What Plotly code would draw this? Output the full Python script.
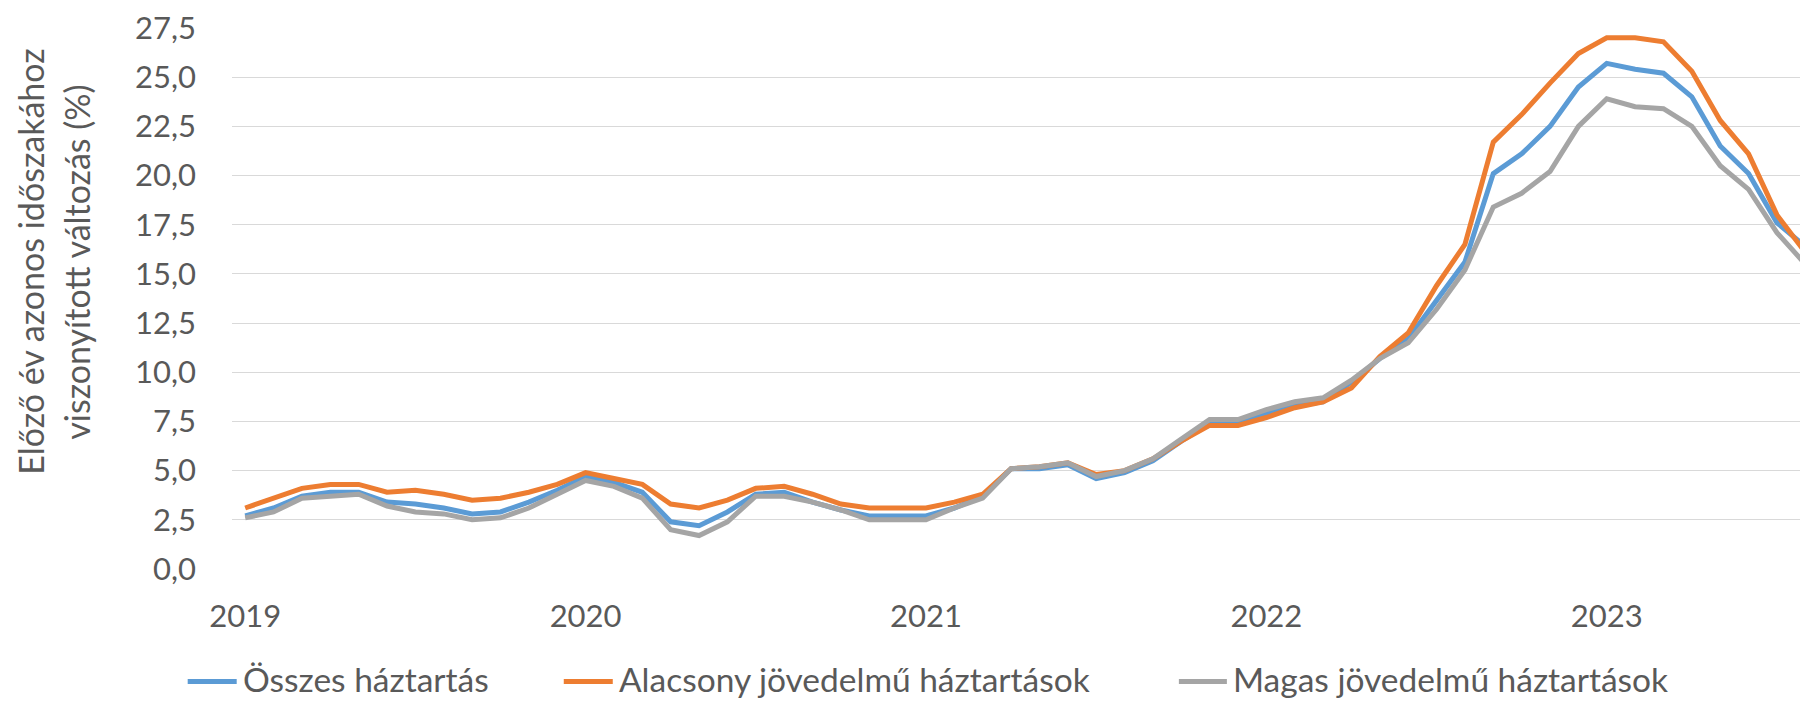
import plotly.graph_objects as go

# ---------------- data ----------------
months = [
    "2019-01", "2019-02", "2019-03", "2019-04", "2019-05", "2019-06", "2019-07", "2019-08", "2019-09", "2019-10", "2019-11", "2019-12",
    "2020-01", "2020-02", "2020-03", "2020-04", "2020-05", "2020-06", "2020-07", "2020-08", "2020-09", "2020-10", "2020-11", "2020-12",
    "2021-01", "2021-02", "2021-03", "2021-04", "2021-05", "2021-06", "2021-07", "2021-08", "2021-09", "2021-10", "2021-11", "2021-12",
    "2022-01", "2022-02", "2022-03", "2022-04", "2022-05", "2022-06", "2022-07", "2022-08", "2022-09", "2022-10", "2022-11", "2022-12",
    "2023-01", "2023-02", "2023-03", "2023-04", "2023-05", "2023-06", "2023-07", "2023-08",
]

osszes = [
    2.7, 3.1, 3.7, 3.9, 3.9, 3.4, 3.3, 3.1, 2.8, 2.9, 3.4, 4.0,
    4.7, 4.4, 3.9, 2.4, 2.2, 2.9, 3.8, 3.9, 3.4, 3.0, 2.7, 2.7,
    2.7, 3.1, 3.7, 5.1, 5.1, 5.3, 4.6, 4.9, 5.5, 6.5, 7.4, 7.4,
    7.9, 8.3, 8.5, 9.5, 10.7, 11.7, 13.7, 15.6, 20.1, 21.1, 22.5, 24.5,
    25.7, 25.4, 25.2, 24.0, 21.5, 20.1, 17.6, 16.4,
]

alacsony = [
    3.1, 3.6, 4.1, 4.3, 4.3, 3.9, 4.0, 3.8, 3.5, 3.6, 3.9, 4.3,
    4.9, 4.6, 4.3, 3.3, 3.1, 3.5, 4.1, 4.2, 3.8, 3.3, 3.1, 3.1,
    3.1, 3.4, 3.8, 5.1, 5.2, 5.4, 4.8, 5.0, 5.6, 6.5, 7.3, 7.3,
    7.7, 8.2, 8.5, 9.2, 10.8, 12.0, 14.4, 16.5, 21.7, 23.1, 24.7, 26.2,
    27.0, 27.0, 26.8, 25.3, 22.8, 21.1, 18.0, 16.1,
]

magas = [
    2.6, 2.9, 3.6, 3.7, 3.8, 3.2, 2.9, 2.8, 2.5, 2.6, 3.1, 3.8,
    4.5, 4.2, 3.6, 2.0, 1.7, 2.4, 3.7, 3.7, 3.4, 3.0, 2.5, 2.5,
    2.5, 3.1, 3.6, 5.1, 5.2, 5.4, 4.7, 5.0, 5.6, 6.6, 7.6, 7.6,
    8.1, 8.5, 8.7, 9.6, 10.7, 11.5, 13.2, 15.2, 18.4, 19.1, 20.2, 22.5,
    23.9, 23.5, 23.4, 22.5, 20.5, 19.3, 17.1, 15.5,
]

series_names = ["Összes háztartás", "Alacsony jövedelmű háztartások", "Magas jövedelmű háztartások"]
series_colors = ["#5B9BD5", "#ED7D31", "#A5A5A5"]

year_ticks = ["2019-01", "2020-01", "2021-01", "2022-01", "2023-01"]
year_labels = ["2019", "2020", "2021", "2022", "2023"]

y_title_lines = ["Előző év azonos időszakához", "viszonyított változás (%)"]

# ---------------- layout geometry (pixels) ----------------
W, H = 1800, 701
PL, PR, PT, PB = 232.3, 1800.0, 27.7, 569.3
X0_PX, MONTH_PX = 245.5, 28.36

FONT = "Lato"
TXT = "#595959"


def px_to_paper_x(px):
    return (px - PL) / (PR - PL)


def px_to_paper_y(py):
    return (PB - py) / (PB - PT)


fig = go.Figure()
for name, vals, col in zip(series_names, [osszes, alacsony, magas], series_colors):
    fig.add_trace(go.Scatter(
        x=months, y=vals, name=name, mode="lines",
        line=dict(color=col, width=5),
        showlegend=False,
    ))

x_left = -(X0_PX - PL) / MONTH_PX
x_right = (PR - X0_PX) / MONTH_PX

fig.update_layout(
    width=W, height=H,
    margin=dict(l=PL, r=W - PR, t=PT, b=H - PB, pad=0),
    paper_bgcolor="white", plot_bgcolor="white",
    separators=", ",
    font=dict(family=FONT, color=TXT),
    xaxis=dict(
        type="category",
        categoryorder="array", categoryarray=months,
        range=[x_left, x_right],
        tickmode="array", tickvals=year_ticks, ticktext=year_labels,
        showgrid=False, zeroline=False, showline=False,
        ticks="", ticklabelstandoff=26,
        tickfont=dict(family=FONT, size=31, color=TXT),
    ),
    yaxis=dict(
        range=[0, 27.5], dtick=2.5, tick0=0, tickformat=".1f",
        showgrid=True, gridcolor="#D9D9D9", gridwidth=1.4,
        zeroline=False, showline=False,
        ticks="", ticklabelstandoff=35,
        tickfont=dict(family=FONT, size=31, color=TXT),
    ),
)

# y axis title (two lines, rotated), one annotation per line
for line_txt, cx in zip(y_title_lines, [30, 76]):
    fig.add_annotation(
        text=line_txt, textangle=-90,
        xref="paper", yref="paper",
        x=px_to_paper_x(cx), y=px_to_paper_y(262),
        xanchor="center", yanchor="middle",
        showarrow=False,
        font=dict(family=FONT, size=34, color=TXT),
    )

# legend (drawn manually to match reference placement)
legend_sym_px = [(188, 237), (564, 613), (1179, 1227)]
legend_txt_px = [241, 617, 1231]
LEG_SYM_Y = 682
LEG_TXT_Y = 679
for (sx0, sx1), tx, name, col in zip(legend_sym_px, legend_txt_px, series_names, series_colors):
    fig.add_shape(
        type="line", xref="paper", yref="paper",
        x0=px_to_paper_x(sx0), x1=px_to_paper_x(sx1),
        y0=px_to_paper_y(LEG_SYM_Y), y1=px_to_paper_y(LEG_SYM_Y),
        line=dict(color=col, width=5),
    )
    fig.add_annotation(
        text=name, xref="paper", yref="paper",
        x=px_to_paper_x(tx), y=px_to_paper_y(LEG_TXT_Y),
        xanchor="left", yanchor="middle", showarrow=False,
        font=dict(family=FONT, size=33.5, color=TXT),
    )

fig.write_html(
    "out.html",
    config={"displayModeBar": False},
    post_script="document.body.style.margin='0';document.body.style.overflow='hidden';",
)
